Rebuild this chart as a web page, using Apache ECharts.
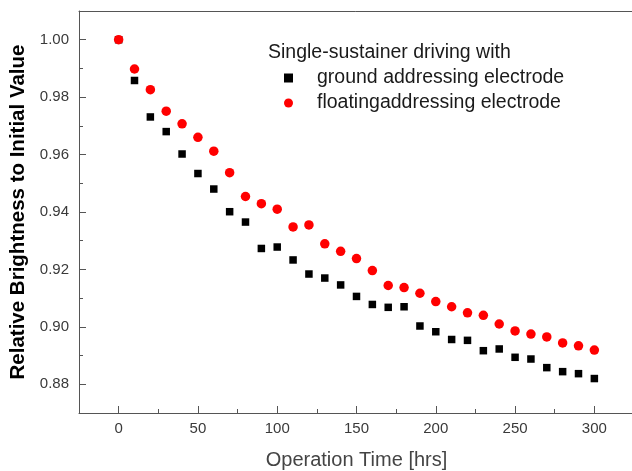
<!DOCTYPE html>
<html><head><meta charset="utf-8">
<script src="https://cdn.jsdelivr.net/npm/echarts@6/dist/echarts.min.js"></script>
<style>html,body{margin:0;padding:0;background:#fff}#c{width:632px;height:471px}</style>
</head><body><div id="c"></div>
<script>
const hours = [0,10,20,30,40,50,60,70,80,90,100,110,120,130,140,150,160,170,180,190,200,210,220,230,240,250,260,270,280,290,300];
const groundAddr = [1.000,0.9858,0.9731,0.9680,0.9602,0.9534,0.9480,0.9401,0.9365,0.9273,0.9278,0.9233,0.9184,0.9170,0.9146,0.9106,0.9078,0.9068,0.9070,0.9003,0.8983,0.8956,0.8953,0.8917,0.8923,0.8894,0.8888,0.8858,0.8844,0.8837,0.8820];
const floatingAddr = [1.000,0.9898,0.9826,0.9751,0.9707,0.9660,0.9612,0.9537,0.9454,0.9429,0.9410,0.9348,0.9355,0.9289,0.9263,0.9238,0.9196,0.9144,0.9137,0.9117,0.9088,0.9070,0.9049,0.9040,0.9010,0.8986,0.8975,0.8965,0.8944,0.8934,0.8919];
const xMajorTicks = [0,50,100,150,200,250,300];
const xMinorTicks = [25,75,125,175,225,275];
const yMajorTicks = [0.88,0.90,0.92,0.94,0.96,0.98,1.00];
const yMinorTicks = [0.89,0.91,0.93,0.95,0.97,0.99];
const legendTitle = 'Single-sustainer driving with';
const seriesNames = ['ground addressing electrode','floatingaddressing electrode'];

const FONT = '"Liberation Sans", Arial, sans-serif';
const axisColor = '#555';
const chart = echarts.init(document.getElementById('c'), null, {renderer:'canvas'});
const pairs = (ys) => hours.map((h,i)=>[h, ys[i]]);
chart.setOption({
  animation:false,
  backgroundColor:'#fff',
  grid:{left:79, top:11, width:555, bottom:58, outerBoundsMode:'none', containLabel:false, show:false},
  xAxis:[{
    type:'value', min:-25, max:325, position:'bottom',
    name:'Operation Time [hrs]', nameLocation:'middle', nameGap:37,
    nameTextStyle:{fontFamily:FONT, fontSize:20, color:'#444'},
    axisLine:{show:true, onZero:false, lineStyle:{color:axisColor}},
    axisTick:{show:true, inside:true, length:7, customValues:xMajorTicks, lineStyle:{color:axisColor}},
    axisLabel:{customValues:xMajorTicks, margin:8, fontFamily:FONT, fontSize:15, color:'#3a3a3a'},
    splitLine:{show:false}
  },{
    type:'value', min:-25, max:325, position:'bottom',
    axisLine:{show:false, onZero:false},
    axisTick:{show:true, inside:true, length:4, customValues:xMinorTicks, lineStyle:{color:axisColor}},
    axisLabel:{show:false},
    splitLine:{show:false}
  },{
    type:'value', min:-25, max:325, position:'top',
    axisLine:{show:true, onZero:false, lineStyle:{color:axisColor}},
    axisTick:{show:false}, axisLabel:{show:false}, splitLine:{show:false}
  }],
  yAxis:[{
    type:'value', min:0.87, max:1.01, position:'left',
    name:'Relative Brightness to Initial Value', nameLocation:'middle', nameGap:50,
    nameTextStyle:{fontFamily:FONT, fontSize:20.5, fontWeight:'bold', color:'#000'},
    axisLine:{show:true, onZero:false, lineStyle:{color:axisColor}},
    axisTick:{show:true, inside:true, length:7, customValues:yMajorTicks, lineStyle:{color:axisColor}},
    axisLabel:{customValues:yMajorTicks, margin:10, fontFamily:FONT, fontSize:15, color:'#3a3a3a', formatter:(v)=>v.toFixed(2)},
    splitLine:{show:false}
  },{
    type:'value', min:0.87, max:1.01, position:'left',
    axisLine:{show:false, onZero:false},
    axisTick:{show:true, inside:true, length:4, customValues:yMinorTicks, lineStyle:{color:axisColor}},
    axisLabel:{show:false},
    splitLine:{show:false}
  }],
  legend:{
    orient:'vertical', left:284, top:68, padding:0, itemGap:5,
    itemWidth:9, itemHeight:9,
    textStyle:{fontFamily:FONT, fontSize:19.5, color:'#1a1a1a', padding:[0,0,0,19]},
    data:[{name:seriesNames[0], icon:'rect', itemStyle:{opacity:1}},{name:seriesNames[1], icon:'circle', itemStyle:{opacity:1}}]
  },
  graphic:[{type:'text', x:268, y:53, style:{text:legendTitle, font:'19.5px "Liberation Sans", Arial, sans-serif', fill:'#1a1a1a', align:'left', verticalAlign:'middle'}}],
  series:[
    {name:seriesNames[0], type:'scatter', xAxisIndex:0, yAxisIndex:0, symbol:'rect', symbolSize:7.5, itemStyle:{color:'#000', opacity:1}, data:pairs(groundAddr), z:2},
    {name:seriesNames[1], type:'scatter', xAxisIndex:0, yAxisIndex:0, symbol:'circle', symbolSize:9.5, itemStyle:{color:'#ff0000', opacity:1}, data:pairs(floatingAddr), z:3}
  ]
});
</script></body></html>
